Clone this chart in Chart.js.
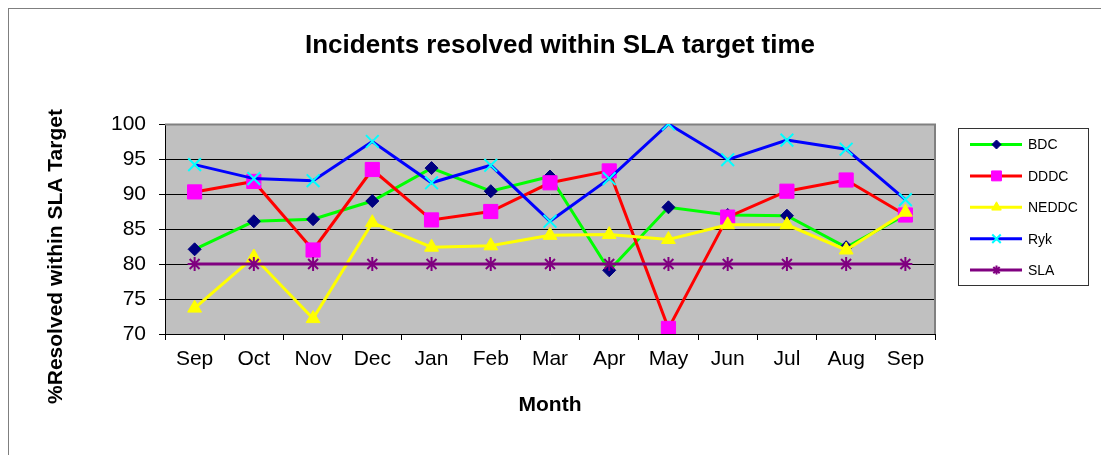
<!DOCTYPE html>
<html>
<head>
<meta charset="utf-8">
<script src="https://cdn.jsdelivr.net/npm/chart.js@4/dist/chart.umd.min.js"></script>
<style>
  html, body { margin: 0; padding: 0; background: #fff; }
  #wrap { width: 1101px; height: 455px; position: relative; }
</style>
</head>
<body>
<div id="wrap"><canvas id="myChart"></canvas></div>
<script>
// months on the x axis
const months = ["Sep", "Oct", "Nov", "Dec", "Jan", "Feb", "Mar", "Apr", "May", "Jun", "Jul", "Aug", "Sep"];

// % resolved within SLA target
const bdc = [82.1, 86.1, 86.4, 89.0, 93.7, 90.4, 92.5, 79.1, 88.1, 87.0, 86.9, 82.4, 87.0];
const dddc = [90.3, 91.8, 82.0, 93.5, 86.3, 87.5, 91.6, 93.3, 70.8, 86.7, 90.4, 92.0, 87.0];
const neddc = [73.7, 81.0, 72.2, 85.9, 82.4, 82.6, 84.1, 84.2, 83.5, 85.6, 85.6, 82.0, 87.4];
const ryk = [94.2, 92.2, 91.9, 97.5, 91.6, 94.1, 86.1, 92.2, 100, 94.9, 97.7, 96.4, 89.2];
const sla = [80, 80, 80, 80, 80, 80, 80, 80, 80, 80, 80, 80, 80];

const yTicks = [70, 75, 80, 85, 90, 95, 100];

const FONT = "'Liberation Sans', Arial, sans-serif";

function series(label, data, lineColor, style, fill, stroke, radius, legendRadius, bw, order) {
  return {
    label: label,
    data: data,
    order: order,
    borderColor: lineColor,
    borderWidth: 3,
    pointStyle: style,
    pointRadius: radius,
    pointHoverRadius: radius,
    pointBackgroundColor: fill,
    pointBorderColor: stroke,
    pointBorderWidth: bw,
    legendRadius: legendRadius,
    tension: 0,
    fill: false,
  };
}

// grey plot background, plot frame, outer frame, titles and legend box
const framePlugin = {
  id: "frame",
  beforeDraw(chart) {
    const ctx = chart.ctx;
    const a = chart.chartArea;
    ctx.save();
    ctx.fillStyle = "#fff";
    ctx.fillRect(0, 0, chart.width, chart.height);
    ctx.strokeStyle = "#7f7f7f";
    ctx.lineWidth = 1;
    ctx.strokeRect(8.5, 8.5, 1200, 600);
    ctx.fillStyle = "#c0c0c0";
    ctx.fillRect(a.left, a.top, a.right - a.left, a.bottom - a.top);
    ctx.restore();
  },
  beforeDatasetsDraw(chart) {
    const ctx = chart.ctx;
    const a = chart.chartArea;
    ctx.save();
    ctx.strokeStyle = "#808080";
    ctx.lineWidth = 2;
    ctx.beginPath();
    ctx.moveTo(a.left, a.top + 0.5);
    ctx.lineTo(a.right, a.top + 0.5);
    ctx.lineTo(a.right, a.bottom);
    ctx.stroke();
    ctx.restore();
  },
  afterDraw(chart) {
    const ctx = chart.ctx;
    ctx.save();
    ctx.fillStyle = "#000";
    ctx.textAlign = "center";
    ctx.textBaseline = "middle";
    ctx.font = "bold 26px " + FONT;
    ctx.fillText("Incidents resolved within SLA target time", 560, 46);

    // y axis title
    ctx.translate(62, 256.5);
    ctx.rotate(-Math.PI / 2);
    ctx.font = "bold 21px " + FONT;
    ctx.textBaseline = "alphabetic";
    ctx.fillText("%Resolved within SLA Target", 0, 0);
    ctx.restore();

    // legend box
    ctx.save();
    ctx.strokeStyle = "#333";
    ctx.lineWidth = 1;
    ctx.strokeRect(958.5, 128.5, 130, 157);
    ctx.font = "14px " + FONT;
    ctx.textBaseline = "middle";
    ctx.textAlign = "left";
    chart.data.datasets.forEach((ds, i) => {
      const y = 144.5 + i * 31.4;
      ctx.strokeStyle = ds.borderColor;
      ctx.lineWidth = 3;
      ctx.beginPath();
      ctx.moveTo(970, y);
      ctx.lineTo(1022, y);
      ctx.stroke();
      ctx.fillStyle = ds.pointBackgroundColor;
      ctx.strokeStyle = ds.pointBorderColor;
      ctx.lineWidth = ds.pointBorderWidth;
      Chart.helpers.drawPoint(ctx, {
        pointStyle: ds.pointStyle,
        rotation: 0,
        radius: ds.legendRadius,
        borderWidth: ds.pointBorderWidth,
      }, 996.5, y);
      ctx.fillStyle = "#000";
      ctx.fillText(ds.label, 1028, y + 1);
    });
    ctx.restore();
  },
};

new Chart(document.getElementById("myChart"), {
  type: "line",
  data: {
    labels: months,
    datasets: [
      series("BDC", bdc, "#00ff00", "rectRot", "#000080", "#000080", 6.5, 4.5, 1, 5),
      series("DDDC", dddc, "#ff0000", "rect", "#ff00ff", "#ff00ff", 10, 7, 1, 4),
      series("NEDDC", neddc, "#ffff00", "triangle", "#ffff00", "#ffff00", 8, 5.5, 1, 3),
      series("Ryk", ryk, "#0000ff", "crossRot", "#00ffff", "#00ffff", 9, 6, 2, 2),
      series("SLA", sla, "#800080", "star", "#800080", "#800080", 7, 4.5, 2, 1),
    ],
  },
  options: {
    responsive: true,
    maintainAspectRatio: false,
    animation: false,
    devicePixelRatio: 1,
    layout: { padding: { left: 0, right: 166, top: 124, bottom: 0 } },
    plugins: {
      legend: { display: false },
      tooltip: { enabled: false },
      title: { display: false },
    },
    scales: {
      x: {
        offset: true,
        afterFit(scale) { scale.height = 121; },
        grid: {
          offset: true,
          drawOnChartArea: false,
          drawTicks: true,
          tickLength: 6,
          color: "#000",
        },
        border: { color: "#000", width: 1 },
        ticks: {
          color: "#000",
          padding: 7,
          maxRotation: 0,
          autoSkip: false,
          font: { family: FONT, size: 21 },
        },
        title: {
          display: true,
          text: "Month",
          color: "#000",
          font: { family: FONT, size: 21, weight: "bold" },
          padding: { top: 0, bottom: 37.4 },
        },
      },
      y: {
        min: 70,
        max: 100,
        afterFit(scale) { scale.width = 165; },
        afterBuildTicks(scale) { scale.ticks = yTicks.map((v) => ({ value: v })); },
        grid: {
          color: "#000",
          lineWidth: 1,
          drawTicks: true,
          tickLength: 6,
        },
        border: { color: "#000", width: 1 },
        ticks: {
          color: "#000",
          padding: 13,
          font: { family: FONT, size: 21 },
        },
      },
    },
  },
  plugins: [framePlugin],
});
</script>
</body>
</html>
